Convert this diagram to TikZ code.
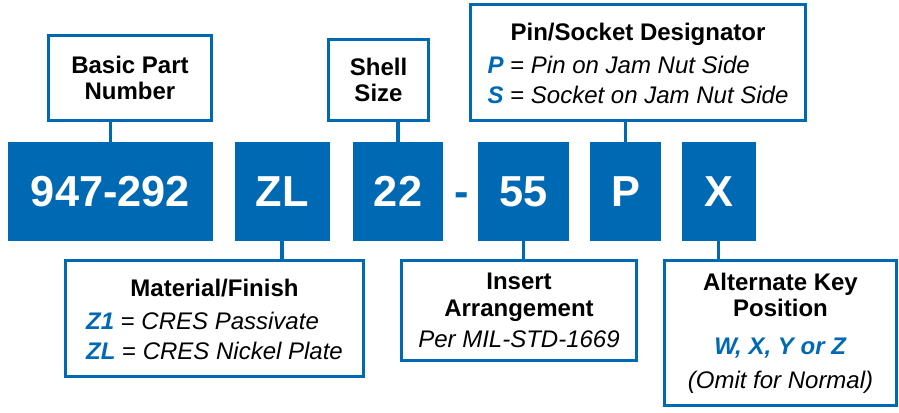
\documentclass[tikz,border=0pt]{standalone}
\usepackage{fontspec}
\setmainfont{Liberation Sans}
\usepackage{xcolor}
\usepackage{tikz}
\usetikzlibrary{positioning}
\definecolor{pnblue}{HTML}{0069B4}
\newcommand{\pncode}[1]{\textcolor{pnblue}{\textbf{\textit{#1}}}}

\begin{document}
\begin{tikzpicture}[x=0.75pt, y=-0.75pt,
      code/.style={fill=pnblue, text=white, inner sep=0pt, minimum height=74.25pt,
                   font=\fontsize{32.5}{36}\selectfont\bfseries},
      info/.style={draw=pnblue, line width=2.25pt, fill=white, inner sep=0pt,
                   align=center, font=\fontsize{18}{20}\selectfont\bfseries},
      link/.style={draw=pnblue, line width=2.4pt}]
    \useasboundingbox (0,0) rectangle (899,412);
    % part number row
    \node[code, minimum width=153.75pt] (pn) at (110.5,191.5) {947-292};
    \node[code, minimum width=71.25pt, right=15.75pt of pn]  (mat) {ZL};
    \node[code, minimum width=67.5pt,  right=17.25pt of mat] (sh)  {22};
    \node[code, fill=none, text=pnblue, right=7.9pt of sh]   (dash) {\vphantom{0}-};
    \node[code, minimum width=68.25pt, right=25.5pt of sh]   (ins) {55};
    \node[code, minimum width=53.25pt, right=15.75pt of ins] (pin) {P};
    \node[code, minimum width=55.5pt,  right=15pt of pin]    (key) {X};
    % labels above
    \node[info, minimum width=122.25pt, minimum height=63.75pt] (pnl) at (130,78)
      {Basic Part\\Number};
    \node[info, minimum width=75pt, minimum height=60.75pt] (shl) at (378.5,80)
      {Shell\\Size};
    \node[info, minimum width=251.25pt, minimum height=87pt] (pinl) at (638,62.5)
      {\rule{0pt}{21pt}Pin/Socket Designator\\[5pt]
       \fontsize{18}{22.5}\selectfont\mdseries
       \begin{tabular}[t]{@{}l@{}}
         \pncode{P} = \textit{Pin on Jam Nut Side}\\
         \pncode{S} = \textit{Socket on Jam Nut Side}
       \end{tabular}};
    % labels below
    \node[info, minimum width=223.5pt, minimum height=87pt] (matl) at (214.5,318.5)
      {\rule{0pt}{21pt}Material/Finish\\[5pt]
       \fontsize{18}{22.5}\selectfont\mdseries
       \begin{tabular}[t]{@{}l@{}}
         \pncode{Z1} = \textit{CRES Passivate}\\
         \pncode{ZL} = \textit{CRES Nickel Plate}
       \end{tabular}};
    \node[info, minimum width=176.25pt, minimum height=75pt] (insl) at (519,310.5)
      {Insert\\Arrangement\\[3pt]
       \mdseries\fontsize{18}{22.5}\selectfont\textit{Per MIL-STD-1669}};
    \node[info, minimum width=174pt, minimum height=108.75pt] (keyl) at (780.5,333)
      {Alternate Key\\Position\\[8pt]
       \pncode{\fontsize{18}{22.5}\selectfont W, X, Y or Z}\\[5.5pt]
       \mdseries\fontsize{18}{22.5}\selectfont\textit{(Omit for Normal)}};
    % connectors
    \draw[link] (pn.north) -- (pn.north |- pnl.south);
    \draw[link] (sh.north) -- (sh.north |- shl.south);
    \draw[link] (pin.north) -- (pin.north |- pinl.south);
    \draw[link] (mat.south) -- (mat.south |- matl.north);
    \draw[link] (ins.south) -- (ins.south |- insl.north);
    \draw[link] (key.south) -- (key.south |- keyl.north);
  \end{tikzpicture}
\end{document}
